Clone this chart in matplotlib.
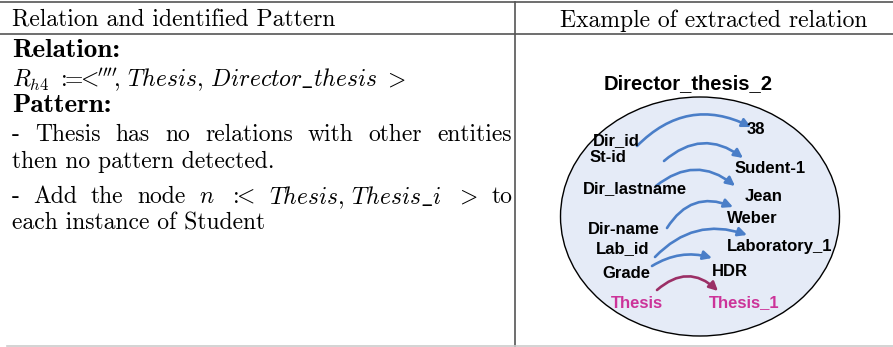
import matplotlib.pyplot as plt
from matplotlib.patches import Ellipse, FancyArrowPatch

plt.rcParams['mathtext.fontset'] = 'cm'

# left column text
header_left = "Relation and identified Pattern"
header_right = "Example of extracted relation"
left_lines = [
    ("Relation:", "bold"),
    (r"$R_{h4}\ :\!\!\!=\!\!\!<\!\!''''\!,\,Thesis,\,Director\_thesis\ >$", "math"),
    ("Pattern:", "bold"),
    ("- Thesis has no relations with other entities", "just"),
    ("then no pattern detected.", "text"),
    ([r"-", "Add", "the", "node", r"$n$", r"$:\!\!\!<$", r"$Thesis,\,Thesis\_i$", r"$>$", "to"], "just"),
    ("each instance of Student", "text"),
]
left_y = [48, 77, 103, 132, 159, 194, 221]

# diagram
title = "Director_thesis_2"
attrs = ["Dir_id", "St-id", "Dir_lastname", "Dir-name", "Lab_id", "Grade", "Thesis"]
values = ["38", "Sudent-1", "Jean", "Weber", "Laboratory_1", "HDR", "Thesis_1"]
attr_xy = [(593, 141), (590, 157), (583, 189), (588, 229), (596, 249), (602, 273), (611, 303)]
val_xy = [(747, 129), (735, 168), (745, 196), (727, 218), (727, 246), (712, 271), (709, 303)]
# arrows: start, end, curvature
arrows = [
    ((637, 146), (751, 127), -0.36),
    ((664, 161), (743, 158), -0.4),
    ((656, 186), (735, 186), -0.4),
    ((667, 228), (733, 207), -0.42),
    ((655, 257), (747, 235), -0.32),
    ((652, 266), (712, 258), -0.22),
    ((657, 290), (718, 291), -0.45),
]

fig = plt.figure(figsize=(8.93, 3.47), dpi=100)
ax = fig.add_axes([0, 0, 1, 1])
ax.set_xlim(0, 893)
ax.set_ylim(347, 0)
ax.axis('off')
renderer = fig.canvas.get_renderer()

# table rules
ax.plot([0, 893], [2, 2], color='#555555', lw=1.2)
ax.plot([0, 893], [34, 34], color='#555555', lw=1.2)
ax.plot([515, 515], [2, 347], color='#555555', lw=1.2)
ax.plot([7, 893], [345.5, 345.5], color='#cccccc', lw=1.2)

fs = 17
va = 'center_baseline'
ax.text(12, 18, header_left, family='cmr10', fontsize=fs, va=va)
ax.text(714, 18, header_right, family='cmr10', fontsize=fs, va=va, ha='center')

x0, x1 = 12, 512
for (s, kind), y in zip(left_lines, left_y):
    if kind == "bold":
        ax.text(x0, y, s, family='cmb10', fontsize=19.5, va=va)
    elif kind == "math":
        ax.text(x0, y, s, fontsize=fs, va=va)
    elif kind == "just":
        words = s.split() if isinstance(s, str) else s
        objs = [ax.text(0, y, w, family='cmr10', fontsize=fs, va=va) for w in words]
        ws = [t.get_window_extent(renderer).width for t in objs]
        gap = (x1 - x0 - sum(ws)) / (len(ws) - 1)
        x = x0
        for t, w in zip(objs, ws):
            t.set_x(x)
            x += w + gap
    else:
        ax.text(x0, y, s, family='cmr10', fontsize=fs, va=va)

ax.add_patch(Ellipse((700, 216.5), 279, 239, facecolor='#e5ebf7', edgecolor='black', lw=1))
ax.text(688, 84, title, family='Liberation Sans', weight='bold', fontsize=14.5, ha='center', va='center')

for i in range(len(attrs)):
    c = '#cc3399' if i == len(attrs) - 1 else 'black'
    ax.text(attr_xy[i][0], attr_xy[i][1], attrs[i], family='Liberation Sans', weight='bold',
            fontsize=12, color=c, va='center')
    ax.text(val_xy[i][0], val_xy[i][1], values[i], family='Liberation Sans', weight='bold',
            fontsize=12, color=c, va='center')

for i, (p0, p1, rad) in enumerate(arrows):
    c = '#9b2f66' if i == len(arrows) - 1 else '#4a7ec8'
    ax.add_patch(FancyArrowPatch(p0, p1, connectionstyle=f"arc3,rad={rad}",
                                 arrowstyle='-|>', mutation_scale=13, color=c, lw=1.9,
                                 shrinkA=0, shrinkB=0))

fig.savefig('out.png', dpi=100)
